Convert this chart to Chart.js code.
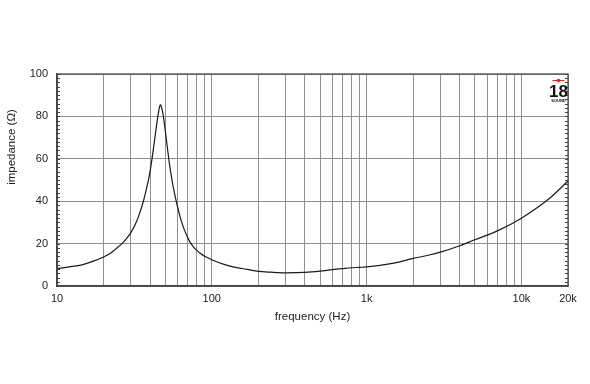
<!DOCTYPE html>
<html>
<head>
<meta charset="utf-8">
<script src="https://cdn.jsdelivr.net/npm/chart.js@4/dist/chart.umd.min.js"></script>
<style>
html,body{margin:0;padding:0;background:#fff;}
#wrap{width:590px;height:384px;position:relative;}
</style>
</head>
<body>
<div id="wrap"><canvas id="c" width="590" height="384"></canvas></div>
<script>
const frequencies = [10,12,14.5,17,20,22,24,26.3,28,30,32,34,36.2,38,39.1,40,41,42,43,44,45,46,46.5,47,48,49,50,51,52,53.4,55,56.4,58.5,60,62.5,65,67.5,70,72.5,76,80,85,90,100,120,140,170,200,240,300,400,500,600,700,800,900,1000,1500,2000,2500,3000,4000,5000,7000,10000,15000,20000];
const impedance = [8.2,9.0,10,11.6,13.7,15.3,17.5,20,22.2,25.2,29.0,33.8,40.2,46.5,50.5,54.5,59.5,65,70.5,76,80.8,84.6,85.4,85.0,82.5,78.5,73.5,68.5,63.5,57,51,46.5,41,37.5,32.5,28.5,25.3,22.7,20.6,18.5,16.8,15.2,14,12.4,10.2,8.9,7.8,6.9,6.5,6.2,6.4,7.0,7.7,8.2,8.6,8.8,9.0,10.8,13.0,14.5,16,19,21.8,26,32,41,49.5];
const xTickValues = [10,20,30,40,50,60,70,80,90,100,200,300,400,500,600,700,800,900,1000,2000,3000,4000,5000,6000,7000,8000,9000,10000,20000];
const xTickLabels = {10:'10',100:'100',1000:'1k',10000:'10k',20000:'20k'};
const yTickValues = [0,20,40,60,80,100];
const xTitle = 'frequency (Hz)';
const yTitle = 'impedance (\u03A9)';

const FONT = "'Liberation Sans', Arial, Helvetica, sans-serif";

const extras = {
  id:'extras',
  afterDraw(chart){
    const ctx = chart.ctx, a = chart.chartArea, ys = chart.scales.y;
    ctx.save();
    ctx.strokeStyle = '#444'; ctx.lineWidth = 1;
    ctx.beginPath();
    for (let v = 0; v <= 100; v += 2) {
      const py = Math.round(ys.getPixelForValue(v)) + 0.5;
      ctx.moveTo(a.left, py); ctx.lineTo(a.left + 3, py);
      ctx.moveTo(a.right, py); ctx.lineTo(a.right - 3, py);
    }
    ctx.stroke();
    ctx.fillStyle = '#222';
    ctx.font = "11.5px " + FONT;
    ctx.textAlign = 'center'; ctx.textBaseline = 'middle';
    ctx.translate(11.5, 147);
    ctx.rotate(-Math.PI/2);
    ctx.fillText(yTitle, 0, 0);
    ctx.restore();
    ctx.save();
    const lx = a.right - 9.5;
    ctx.strokeStyle = '#e02020'; ctx.fillStyle = '#e02020'; ctx.lineWidth = 1;
    ctx.beginPath(); ctx.moveTo(lx-6, a.top+6.5); ctx.lineTo(lx+6, a.top+6.5); ctx.stroke();
    ctx.beginPath(); ctx.arc(lx, a.top+6.5, 1.8, 0, Math.PI*2); ctx.fill();
    ctx.fillStyle = '#111';
    ctx.font = "bold 17px 'Liberation Sans Narrow', " + FONT;
    ctx.textAlign = 'center'; ctx.textBaseline = 'alphabetic';
    ctx.fillText('18', lx, a.top + 23);
    ctx.font = "bold 4px " + FONT;
    ctx.fillText('SOUND', lx, a.top + 28);
    ctx.restore();
  }
};

new Chart(document.getElementById('c'), {
  type: 'scatter',
  data: {
    datasets: [{
      data: frequencies.map((f,i)=>({x:f, y:impedance[i]})),
      showLine: true,
      borderColor: '#1a1a1a',
      borderWidth: 1.2,
      pointRadius: 0,
      cubicInterpolationMode: 'monotone',
      fill: false
    }]
  },
  options: {
    responsive: false,
    animation: false,
    devicePixelRatio: 1,
    layout: { padding: { left: 0, top: 74, right: 22, bottom: 60 } },
    plugins: { legend: { display: false }, tooltip: { enabled: false } },
    scales: {
      x: {
        type: 'logarithmic',
        min: 10, max: 20000,
        afterBuildTicks: s => { s.ticks = xTickValues.map(v => ({value: v})); },
        afterFit: s => { s.height = 38; },
        ticks: {
          autoSkip: false, maxRotation: 0, minRotation: 0, padding: 6,
          color: '#222', font: { family: FONT, size: 11 },
          callback: (v) => xTickLabels[v] !== undefined ? xTickLabels[v] : ''
        },
        grid: { color: '#8f8f8f', lineWidth: 1, drawTicks: false },
        border: { color: '#444', width: 1.5 },
        title: { display: true, text: xTitle, color: '#222', font: { family: FONT, size: 11.5 }, padding: { top: 0, bottom: 0 } }
      },
      y: {
        type: 'linear',
        min: 0, max: 100,
        afterBuildTicks: s => { s.ticks = yTickValues.map(v => ({value: v})); },
        afterFit: s => { s.width = 57; },
        ticks: { padding: 9, color: '#222', font: { family: FONT, size: 11 } },
        grid: { color: '#8f8f8f', lineWidth: 1, drawTicks: false },
        border: { color: '#444', width: 1.5 }
      }
    }
  },
  plugins: [extras, {
    id: 'frame',
    afterDatasetsDraw(chart){
      const ctx = chart.ctx, a = chart.chartArea;
      ctx.save(); ctx.strokeStyle = '#444'; ctx.lineWidth = 1.2;
      ctx.strokeRect(a.left, a.top, a.right - a.left, a.bottom - a.top);
      ctx.restore();
    }
  }]
});
</script>
</body>
</html>
